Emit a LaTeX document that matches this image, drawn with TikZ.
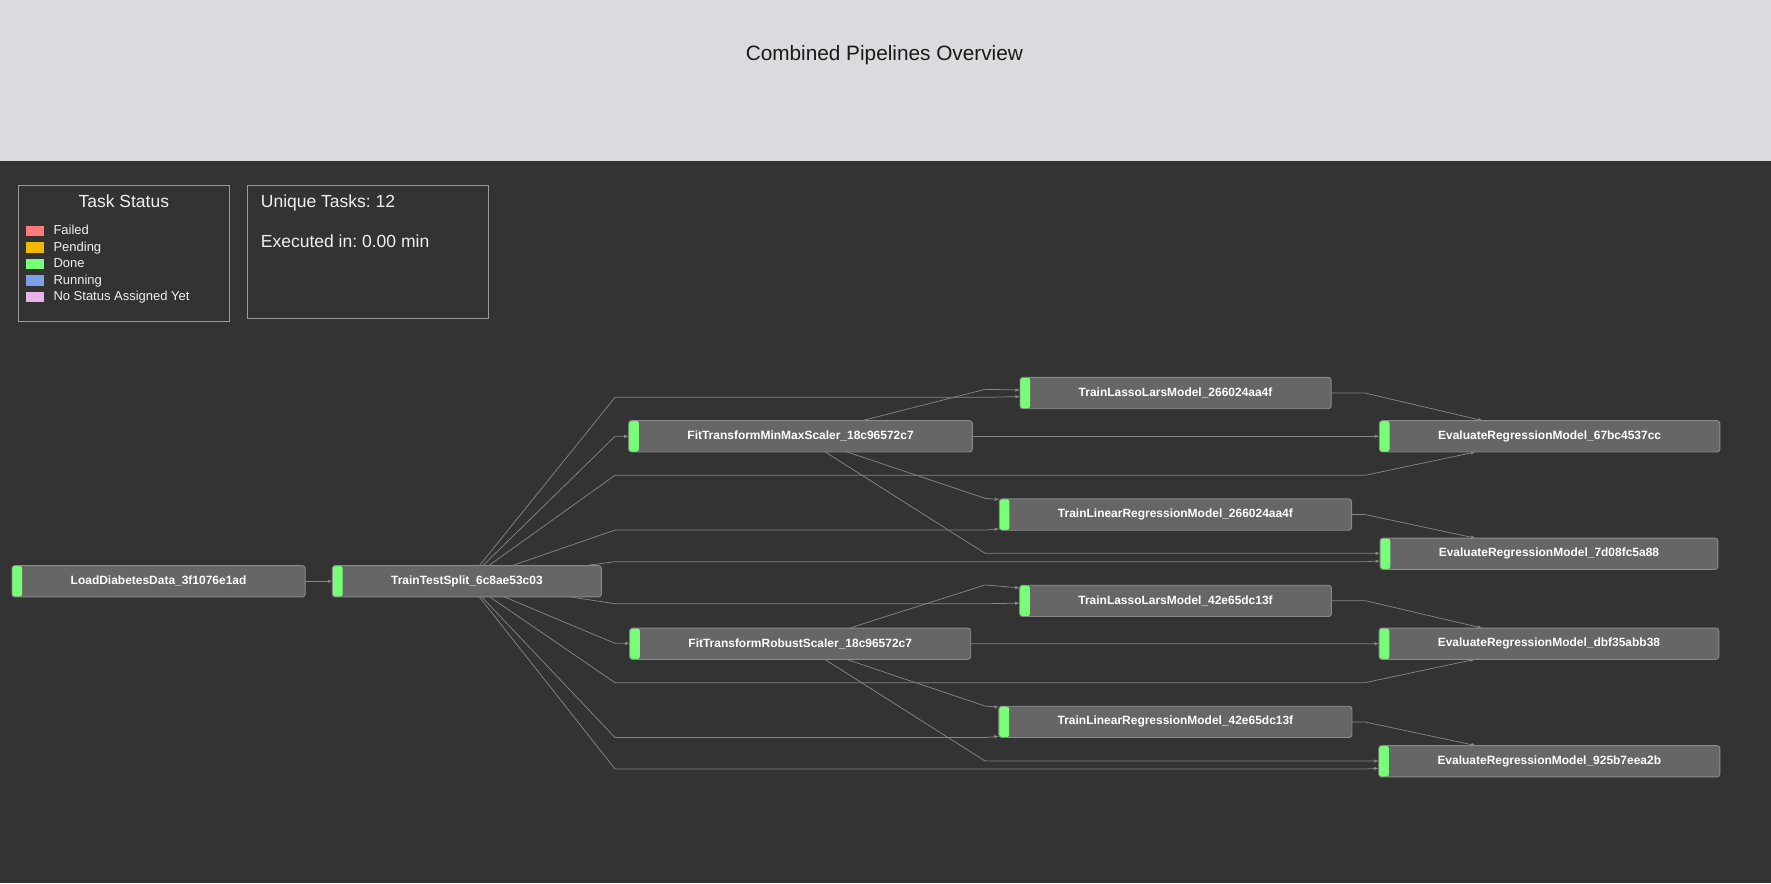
\documentclass[tikz,border=0pt]{standalone}
\usepackage{fontspec}
\setmainfont{Liberation Sans}
\usepackage{xcolor}
\usepackage{tikz}
\usetikzlibrary{arrows.meta}
\frenchspacing
\definecolor{header}{HTML}{DADBDF}
\definecolor{canvas}{HTML}{333333}
\definecolor{panelline}{HTML}{9A9A9A}
\definecolor{nodefill}{HTML}{666666}
\definecolor{nodeline}{HTML}{8A8A8A}
\definecolor{edgegray}{HTML}{858585}
\definecolor{lighttext}{HTML}{F0F0F0}
\definecolor{failed}{HTML}{FF7B7B}
\definecolor{pending}{HTML}{F2B800}
\definecolor{done}{HTML}{77FF77}
\definecolor{running}{HTML}{7F9FE6}
\definecolor{nostatus}{HTML}{E8B4E8}
\tikzset{
  panel/.style={draw=panelline, line width=0.9pt, anchor=north west, inner sep=0pt},
  titletxt/.style={text=black!90, font=\fontsize{18.4}{22}\selectfont, anchor=base},
  headtxt/.style={text=lighttext, font=\fontsize{15.5}{18}\selectfont, anchor=base},
  legtxt/.style={text=lighttext, font=\fontsize{11.5}{13}\selectfont, anchor=base west, inner sep=0pt},
  task/.style={rectangle, rounded corners=2.5pt, draw=nodeline, fill=nodefill,
    line width=0.8pt, minimum height=27.7pt, inner xsep=52pt, inner ysep=0pt,
    outer sep=0pt, text=white, font=\fontsize{10.6}{12}\selectfont\bfseries,
    path picture={\fill[done] (path picture bounding box.north west)
      rectangle ([xshift=9pt]path picture bounding box.south west);}},
  link/.style={draw=edgegray, line width=0.65pt, -{Latex[length=4pt,width=3.2pt]}}
}
\begin{document}
\begin{tikzpicture}[x=1pt, y=-1pt]
  \useasboundingbox (0,0) rectangle (1568,781.8);
  \fill[canvas] (0,0) rectangle (1568,781.8);
  \fill[header] (0,0) rectangle (1568,142.4);
  \node[titletxt] (title) at (783,54) {Combined Pipelines Overview};

  % legend and stats
  \node[panel, minimum width=186.8pt, minimum height=120.4pt] (legend) at (16.2,163.8) {};
  \node[headtxt] (legendtitle) at (109.6,183.9) {Task Status};
  \foreach \c/\t [count=\i from 0] in {failed/Failed, pending/Pending, done/Done,
      running/Running, nostatus/No Status Assigned Yet} {
    \fill[\c] (23,{200+14.6*\i}) rectangle (39,{209+14.6*\i});
    \node[legtxt] (leg\i) at (47.2,{208+14.6*\i}) {\t};
  }
  \node[panel, minimum width=213.3pt, minimum height=118pt] (stats) at (219,163.8) {};
  \node[headtxt, anchor=base west, inner sep=0pt] (unique) at (230.8,183.3) {Unique Tasks: 12};
  \node[headtxt, anchor=base west, inner sep=0pt] (exectime) at (230.8,219) {Executed in: 0.00 min};

  % tasks
  \node[task] (ldd) at (140.4,514.6) {LoadDiabetesData\_3f1076e1ad};
  \node[task] (tts) at (413.4,514.6) {TrainTestSplit\_6c8ae53c03};
  \node[task] (mm) at (708.8,386.3) {FitTransformMinMaxScaler\_18c96572c7};
  \node[task] (rb) at (708.5,570) {FitTransformRobustScaler\_18c96572c7};
  \node[task] (tll1) at (1040.8,348) {TrainLassoLarsModel\_266024aa4f};
  \node[task] (tlr1) at (1040.7,455.6) {TrainLinearRegressionModel\_266024aa4f};
  \node[task] (tll2) at (1040.8,532) {TrainLassoLarsModel\_42e65dc13f};
  \node[task] (tlr2) at (1040.7,639.1) {TrainLinearRegressionModel\_42e65dc13f};
  \node[task] (ev1) at (1372,386.3) {EvaluateRegressionModel\_67bc4537cc};
  \node[task] (ev2) at (1371.4,490.3) {EvaluateRegressionModel\_7d08fc5a88};
  \node[task] (ev3) at (1371.4,569.9) {EvaluateRegressionModel\_dbf35abb38};
  \node[task] (ev4) at (1371.7,674) {EvaluateRegressionModel\_925b7eea2b};

  % edges
  \draw[link] (ldd) -- (tts);
  \draw[link] (tts) -- (544.5,351.8) -- (872.2,351.8) -- (tll1);
  \draw[link] (tts) -- (544.5,386.3) -- (mm);
  \draw[link] (tts) -- (544.5,420.8) -- (1208.6,420.8) -- (ev1);
  \draw[link] (tts) -- (544.5,469.3) -- (872.2,469.3) -- (tlr1);
  \draw[link] (tts) -- (544.5,497.3) -- (1208.6,497.3) -- (ev2);
  \draw[link] (tts) -- (544.5,534.5) -- (872.2,534.5) -- (tll2);
  \draw[link] (tts) -- (544.5,569.6) -- (rb);
  \draw[link] (tts) -- (544.5,604.4) -- (1208.6,604.4) -- (ev3);
  \draw[link] (tts) -- (544.5,653) -- (872.2,653) -- (tlr2);
  \draw[link] (tts) -- (544.5,680.8) -- (1208.6,680.8) -- (ev4);

  \draw[link] (mm) -- (872.2,344.7) -- (tll1);
  \draw[link] (mm) -- (ev1);
  \draw[link] (mm) -- (872.2,441.2) -- (tlr1);
  \draw[link] (mm) -- (872.2,489.9) -- (1208.6,489.9) -- (ev2);
  \draw[link] (rb) -- (872.2,517.9) -- (tll2);
  \draw[link] (rb) -- (ev3);
  \draw[link] (rb) -- (872.2,625.1) -- (tlr2);
  \draw[link] (rb) -- (872.2,673.8) -- (1208.6,673.8) -- (ev4);

  \draw[link] (tll1) -- (1208.6,348) -- (ev1);
  \draw[link] (tlr1) -- (1208.6,455.6) -- (ev2);
  \draw[link] (tll2) -- (1208.6,531.8) -- (ev3);
  \draw[link] (tlr2) -- (1208.6,639.2) -- (ev4);
\end{tikzpicture}
\end{document}
